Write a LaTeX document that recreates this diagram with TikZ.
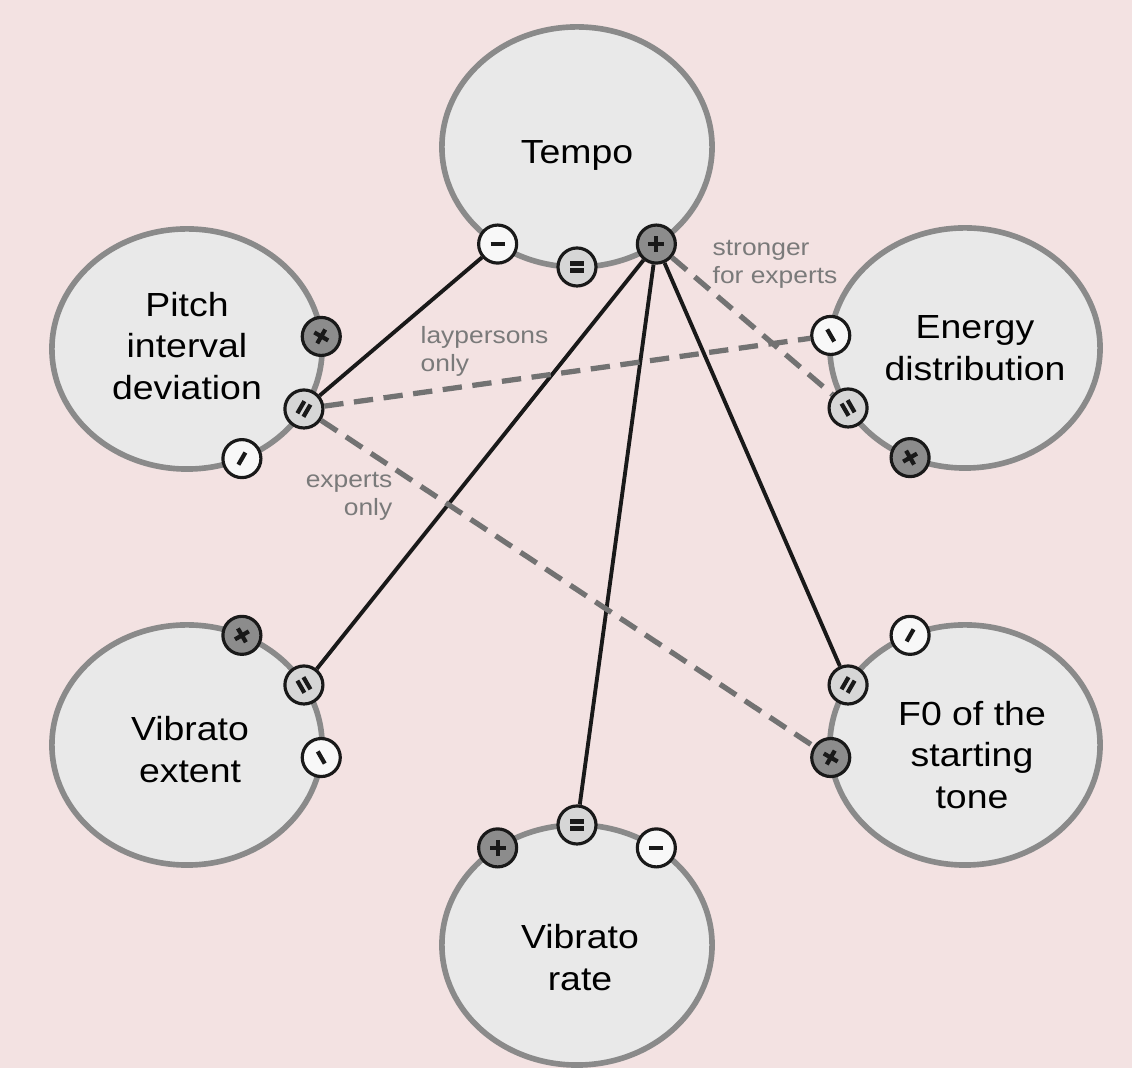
\documentclass[tikz,border=0pt]{standalone}
\usepackage{fontspec}
\setmainfont[FakeStretch=1.12]{Liberation Sans}
\usetikzlibrary{shapes,calc,positioning}

\definecolor{bgpink}{HTML}{F3E2E2}
\definecolor{ballfill}{HTML}{E9E9E9}
\definecolor{ballline}{HTML}{8A8A8A}
\definecolor{plusfill}{HTML}{8C8C8C}
\definecolor{eqfill}{HTML}{D6D6D6}
\definecolor{minusfill}{HTML}{F8F8F8}
\definecolor{notegray}{HTML}{7A7A7A}
\definecolor{dashgray}{HTML}{727272}

\begin{document}
\begin{tikzpicture}[
    x=0.01cm, y=0.01cm,
    ball/.style={ellipse,draw=ballline,fill=ballfill,line width=1.6pt,
                 minimum width=2.70cm,minimum height=2.40cm,inner sep=0pt},
    ball text/.style={align=center,inner sep=0pt,
                      font=\fontsize{9.5}{11.9}\selectfont},
    badge/.style={circle,draw=black!90,line width=0.9pt,
                  minimum size=0.38cm,inner sep=0pt},
    badge plus/.style={badge,fill=plusfill},
    badge equal/.style={badge,fill=eqfill},
    badge minus/.style={badge,fill=minusfill},
    sym/.style={line width=1.2pt,black!90},
    plus sign/.pic={\draw[sym] (-8,0) -- (8,0) (0,-8) -- (0,8);},
    equal sign/.pic={\draw[sym] (-7,3.5) -- (7,3.5) (-7,-3.5) -- (7,-3.5);},
    minus sign/.pic={\draw[sym] (-7,0) -- (7,0);},
    solid link/.style={line width=1.1pt,black!90},
    dashed link/.style={line width=1.5pt,dashgray,
                        dash pattern=on 5.5pt off 3pt},
    note/.style={text=notegray,font=\fontsize{6.7}{8}\selectfont,inner sep=0pt}]

    \fill[bgpink] (0,0) rectangle (1132,-1068);

    % the six measures
    \node[ball] (tempo)   at (577,-147) {};
    \node[ball] (pitch)   at (187,-349) {};
    \node[ball] (energy)  at (965,-348) {};
    \node[ball] (vibext)  at (187,-745) {};
    \node[ball] (fzero)   at (965,-745) {};
    \node[ball] (vibrate) at (577,-945) {};

    \node[ball text] (tempo-text)   at ($(tempo)+(0,-8)$)     {Tempo};
    \node[ball text] (pitch-text)   at ($(pitch)+(0,3)$)      {Pitch\\interval\\deviation};
    \node[ball text] (energy-text)  at ($(energy)+(10,0)$)    {Energy\\distribution};
    \node[ball text] (vibext-text)  at ($(vibext)+(3,-5)$)    {Vibrato\\extent};
    \node[ball text] (fzero-text)   at ($(fzero)+(7,-10)$)    {F0 of the\\starting\\tone};
    \node[ball text] (vibrate-text) at ($(vibrate)+(3,-13)$)  {Vibrato\\rate};

    % minus, equal and plus badges on each rim
    \foreach \n/\t in {tempo/-90,pitch/-30,energy/210,vibext/30,fzero/150,vibrate/90} {
      \node[badge minus] (\n-minus) at ($(\n)+({135*cos(\t-36)},{120*sin(\t-36)})$) {};
      \node[badge equal] (\n-eq)    at ($(\n)+({135*cos(\t)},{120*sin(\t)})$) {};
      \node[badge plus]  (\n-plus)  at ($(\n)+({135*cos(\t+36)},{120*sin(\t+36)})$) {};
      \pic[rotate=\t+90] at (\n-minus) {minus sign};
      \pic[rotate=\t+90] at (\n-eq)    {equal sign};
      \pic[rotate=\t+90] at (\n-plus)  {plus sign};
    }

    % links
    \draw[solid link] (tempo-minus) -- (pitch-eq);
    \draw[solid link] (tempo-plus) -- (vibext-eq);
    \draw[solid link] (tempo-plus) -- (vibrate-eq);
    \draw[solid link] (tempo-plus) -- (fzero-eq);
    \draw[dashed link] (tempo-plus) -- (energy-eq);
    \draw[dashed link] (pitch-eq) -- (energy-minus);
    \draw[dashed link] (pitch-eq) -- (fzero-plus);

    \node[note,align=left,anchor=west]  (strong) at (712,-264) {stronger\\for experts};
    \node[note,align=left,anchor=west]  (lay)    at (420,-351) {laypersons\\only};
    \node[note,align=right,anchor=east] (expert) at (393,-496) {experts\\only};
\end{tikzpicture}
\end{document}
